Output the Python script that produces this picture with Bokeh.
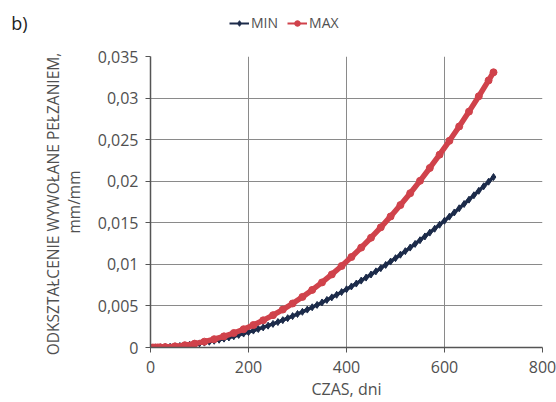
from bokeh.plotting import figure
from bokeh.layouts import column
from bokeh.models import FixedTicker, Legend, LegendItem, LinearAxis, Range1d
from bokeh.embed import file_html
from bokeh.resources import INLINE

# ---- data ----
max_days = [0, 5, 10, 15, 20, 30, 50, 70, 90, 110, 130, 150, 170, 190, 210, 230, 250,
            270, 290, 310, 330, 350, 370, 390, 410, 430, 450, 470, 490, 510, 530, 550,
            570, 590, 610, 630, 650, 670, 690, 700]
max_strain = [0.0, 0.000001, 0.000005, 0.000011, 0.00002, 0.000047, 0.000137, 0.000275,
              0.000465, 0.000705, 0.000998, 0.001344, 0.001743, 0.002197, 0.002706,
              0.003269, 0.003888, 0.004563, 0.005294, 0.006082, 0.006926, 0.007829,
              0.008788, 0.009805, 0.010880, 0.012013, 0.013204, 0.014453, 0.015763,
              0.017131, 0.018558, 0.020045, 0.021590, 0.023195, 0.024861, 0.026586,
              0.028372, 0.030219, 0.032125, 0.0331]

min_days = [0, 10, 20, 30, 40, 50, 60, 70, 80, 90, 100, 110, 120, 130, 140, 150, 160, 170,
            180, 190, 200, 210, 220, 230, 240, 250, 260, 270, 280, 290, 300, 310, 320,
            330, 340, 350, 360, 370, 380, 390, 400, 410, 420, 430, 440, 450, 460, 470,
            480, 490, 500, 510, 520, 530, 540, 550, 560, 570, 580, 590, 600, 610, 620,
            630, 640, 650, 660, 670, 680, 690, 700]
min_strain = [0.0, 0.000006, 0.000022, 0.000048, 0.000084, 0.000129, 0.000183, 0.000247,
              0.000318, 0.000399, 0.000489, 0.000587, 0.000694, 0.000809, 0.000933,
              0.001065, 0.001205, 0.001354, 0.001511, 0.001676, 0.001850, 0.002032,
              0.002222, 0.002419, 0.002625, 0.002839, 0.003061, 0.003291, 0.003530,
              0.003776, 0.004030, 0.004291, 0.004561, 0.004839, 0.005124, 0.005417,
              0.005719, 0.006028, 0.006344, 0.006669, 0.007001, 0.007341, 0.007689,
              0.008044, 0.008407, 0.008777, 0.009156, 0.009542, 0.009935, 0.010337,
              0.010745, 0.011161, 0.011585, 0.012017, 0.012456, 0.012903, 0.013357,
              0.013818, 0.014287, 0.014764, 0.015248, 0.015740, 0.016239, 0.016745,
              0.017259, 0.017781, 0.018310, 0.018847, 0.019391, 0.019942, 0.0205]

x_ticks = [0, 200, 400, 600, 800]
y_ticks = [0, 0.005, 0.01, 0.015, 0.02, 0.025, 0.03, 0.035]
y_tick_labels = ["0", "0,005", "0,01", "0,015", "0,02", "0,025", "0,03", "0,035"]
panel_letter = "b)"

FONT = "Open Sans"
TXT = "#505050"
RED = "#d0424b"
NAVY = "#1c2b4a"
NAN = float("nan")

# ---- header strip: panel letter + legend (its frame aligns with the chart's frame) ----
top = figure(width=556, height=46, output_backend="svg", toolbar_location=None,
             x_axis_type=None, y_axis_type=None,
             x_range=Range1d(150, 542), y_range=Range1d(46, 0),
             min_border=0, outline_line_color=None)
top.background_fill_color = "white"
top.border_fill_color = "white"
d_min_l = top.line([NAN], [NAN], line_color=NAVY, line_width=2)
d_min_s = top.scatter([NAN], [NAN], marker="diamond", size=7, fill_color=NAVY,
                      line_color=NAVY)
d_max_l = top.line([NAN], [NAN], line_color=RED, line_width=2)
d_max_s = top.scatter([NAN], [NAN], marker="circle", size=6, fill_color=RED,
                      line_color=RED)
legend = Legend(items=[LegendItem(label="MIN", renderers=[d_min_l, d_min_s]),
                       LegendItem(label="MAX", renderers=[d_max_l, d_max_s])],
                orientation="horizontal", location=(79, 14),
                label_text_font=FONT, label_text_font_size="14px",
                label_text_color=TXT, glyph_width=20, glyph_height=14,
                label_standoff=2, spacing=9, padding=0, margin=0,
                border_line_color=None, background_fill_alpha=0)
top.add_layout(legend, "center")

# panel letter drawn as the single tick label of an otherwise invisible left axis
letter_axis = LinearAxis(ticker=FixedTicker(ticks=[22]),
                         major_label_overrides={22: panel_letter},
                         axis_line_color=None, major_tick_line_color=None,
                         minor_tick_line_color=None, major_tick_out=0, major_tick_in=0,
                         major_label_standoff=123, major_label_text_font=FONT,
                         major_label_text_font_size="18px",
                         major_label_text_color="#222222")
top.add_layout(letter_axis, "left")

# ---- main chart ----
p = figure(width=556, height=356, output_backend="svg", toolbar_location=None,
           x_range=Range1d(0, 800), y_range=Range1d(0, 0.035),
           min_border_left=150, min_border_right=14, min_border_top=10,
           min_border_bottom=54)
p.outline_line_color = None
p.background_fill_color = "white"
p.border_fill_color = "white"

for g in (p.xgrid[0], p.ygrid[0]):
    g.grid_line_color = "#8a8a8a"
    g.grid_line_width = 1

p.xaxis.ticker = FixedTicker(ticks=x_ticks)
p.yaxis.ticker = FixedTicker(ticks=y_ticks)
p.xgrid.ticker = FixedTicker(ticks=x_ticks)
p.ygrid.ticker = FixedTicker(ticks=y_ticks)
p.yaxis.major_label_overrides = {t: l for t, l in zip(y_ticks, y_tick_labels)}
p.xaxis.major_label_overrides = {t: str(t) for t in x_ticks}

for ax in (p.xaxis[0], p.yaxis[0]):
    ax.axis_line_color = "#555555"
    ax.axis_line_width = 1.5
    ax.major_tick_line_color = "#555555"
    ax.major_tick_in = 0
    ax.major_tick_out = 5
    ax.minor_tick_line_color = None
    ax.major_label_text_font = FONT
    ax.major_label_text_font_size = "16px"
    ax.major_label_text_color = TXT
    ax.axis_label_text_font = FONT
    ax.axis_label_text_color = TXT
    ax.axis_label_text_font_style = "normal"

p.xaxis.axis_label = "CZAS, dni"
p.xaxis.axis_label_text_font_size = "16px"
p.xaxis.major_label_standoff = 8
p.xaxis.axis_label_standoff = 2
p.yaxis.axis_label = "ODKSZTAŁCENIE  WYWOŁANE PEŁZANIEM,\nmm/mm"
p.yaxis.axis_label_text_font_size = "15.5px"
p.yaxis.axis_label_text_line_height = 0.95
p.yaxis.major_label_standoff = 7
p.yaxis.axis_label_standoff = 10

l_min = p.line(min_days, min_strain, line_color=NAVY, line_width=3.5)
s_min = p.scatter(min_days, min_strain, marker="diamond", size=7, fill_color=NAVY,
                  line_color=NAVY)
l_max = p.line(max_days, max_strain, line_color=RED, line_width=5.5)
s_max = p.scatter(max_days, max_strain, marker="circle", size=7, fill_color=RED,
                  line_color=RED)

open("out.html", "w").write(file_html(column(top, p, spacing=0), INLINE))
